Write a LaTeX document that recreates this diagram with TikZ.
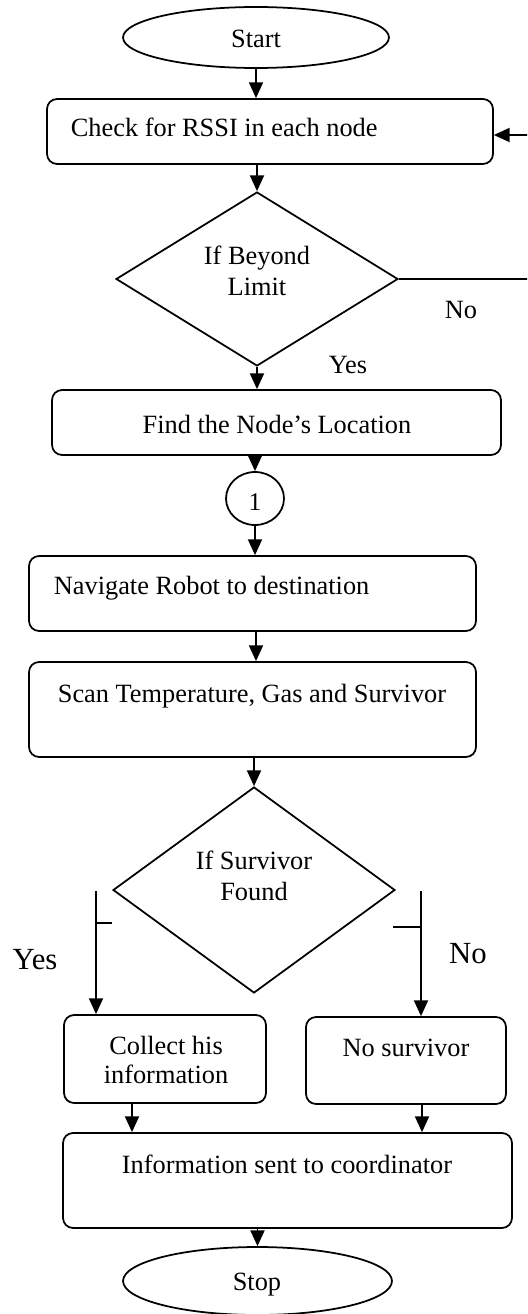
\documentclass[tikz,border=0pt]{standalone}
\usepackage{fontspec}
\setmainfont{Liberation Serif}
\usetikzlibrary{shapes.geometric,arrows.meta}

\begin{document}
\begin{tikzpicture}[x=0.02cm,y=-0.02cm,line width=1pt,
  font=\fontsize{15}{18}\selectfont,
  procbox/.style={draw,rounded corners=0.2cm,inner sep=0pt},
  termbox/.style={draw,ellipse,inner sep=0pt},
  decbox/.style={draw,diamond,inner sep=0pt},
  txt/.style={inner sep=0pt,anchor=base},
  flow/.style={-{Triangle[length=9pt,width=8pt]}}]
\useasboundingbox (0,0) rectangle (527,1314);
\clip (0,0) rectangle (527,1314);
% shapes
\node[termbox,minimum width=5.32cm,minimum height=1.22cm] (start) at (256,37.5) {};
\node[procbox,minimum width=8.92cm,minimum height=1.30cm] (check) at (270,131.5) {};
\node[decbox,minimum width=5.64cm,minimum height=3.48cm] (dec1) at (257,279) {};
\node[procbox,minimum width=8.98cm,minimum height=1.30cm] (find) at (276.5,422.5) {};
\node[termbox,minimum width=1.16cm,minimum height=1.06cm] (conn) at (255,498.5) {};
\node[procbox,minimum width=8.94cm,minimum height=1.50cm] (nav) at (252.5,593.5) {};
\node[procbox,minimum width=8.94cm,minimum height=1.90cm] (scan) at (252.5,709.5) {};
\node[decbox,minimum width=5.64cm,minimum height=4.12cm] (dec2) at (254,890) {};
\node[procbox,minimum width=4.04cm,minimum height=1.76cm] (collect) at (165,1059) {};
\node[procbox,minimum width=4.00cm,minimum height=1.74cm] (nosurv) at (406,1060.5) {};
\node[procbox,minimum width=8.98cm,minimum height=1.90cm] (info) at (287.5,1180.5) {};
\node[termbox,minimum width=5.38cm,minimum height=1.36cm] (stop) at (257.5,1281) {};
% texts
\node[txt] (starttxt) at (256,48) {Start};
\node[txt,anchor=base west] (checktxt) at (70,137) {Check for RSSI in each node};
\node[txt] (dec1a) at (257,265) {If Beyond};
\node[txt] (dec1b) at (257,296) {Limit};
\node[txt] (no1) at (461,318) {No};
\node[txt] (yes1) at (348,373) {Yes};
\node[txt] (findtxt) at (277,433) {Find the Node’s Location};
\node[txt,font=\fontsize{14.5}{17}\selectfont] (conntxt) at (255,510) {1};
\node[txt,anchor=base west] (navtxt) at (53,594) {Navigate Robot to destination};
\node[txt,anchor=base west] (scantxt) at (57,702) {Scan Temperature, Gas and Survivor};
\node[txt] (dec2a) at (254,869) {If Survivor};
\node[txt] (dec2b) at (254,900) {Found};
\node[txt,font=\fontsize{17.5}{20}\selectfont] (yes2) at (35,969) {Yes};
\node[txt,font=\fontsize{17.5}{20}\selectfont] (no2) at (468,963) {No};
\node[txt] (collecta) at (166,1054) {Collect his};
\node[txt] (collectb) at (166,1083) {information};
\node[txt] (nosurvtxt) at (406,1056) {No survivor};
\node[txt] (infotxt) at (287,1173) {Information sent to coordinator};
\node[txt] (stoptxt) at (257,1290) {Stop};
% connectors
\coordinate (loopc) at (540,135);
\coordinate (yesc) at (96,891);
\coordinate (noc) at (421,891);
\draw[flow] (start.south) -- (check.north -| start.south);
\draw[flow] (check.south -| dec1.north) -- (dec1.north);
\draw[flow] (dec1.east) -| (loopc) -- (check.east |- loopc);
\draw[flow] (dec1.south) -- (find.north -| dec1.south);
\draw[flow] (find.south -| conn.north) -- (conn.north);
\draw[flow] (conn.south) -- (nav.north -| conn.south);
\draw[flow] (nav.south -| 256,0) -- (scan.north -| 256,0);
\draw[flow] (scan.south -| dec2.north) -- (dec2.north);
\draw[flow] (yesc) -- (yesc |- collect.north);
\draw (yesc |- 0,923) -- ++(16,0);
\draw[flow] (noc) -- (noc |- nosurv.north);
\draw (noc |- 0,927) -- ++(-28,0);
\draw[flow] (collect.south -| 132,0) -- (info.north -| 132,0);
\draw[flow] (nosurv.south -| 422,0) -- (info.north -| 422,0);
\draw[flow] (info.south -| stop.north) -- (stop.north);
\end{tikzpicture}
\end{document}
